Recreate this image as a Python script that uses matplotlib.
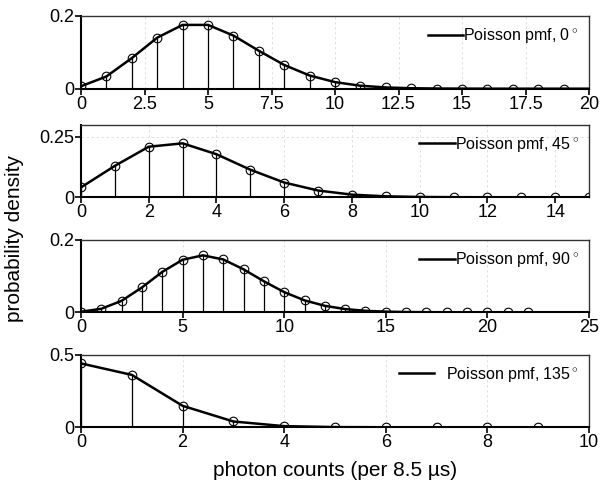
import matplotlib
matplotlib.use("Agg")
import matplotlib.pyplot as plt

plt.rcParams['font.family'] = ['Liberation Sans', 'DejaVu Sans']
plt.rcParams['mathtext.fontset'] = 'custom'
plt.rcParams['mathtext.rm'] = 'Liberation Sans'

# counts and probabilities
counts_0 = list(range(20))
pmf_0 = [0.0067, 0.0337, 0.0842, 0.1404, 0.1755, 0.1755, 0.1462, 0.1044, 0.0653, 0.0363,
         0.0181, 0.0082, 0.0034, 0.0013, 0.0005, 0.0002, 0.0001, 0.0, 0.0, 0.0]
counts_45 = list(range(16))
pmf_45 = [0.041, 0.130, 0.209, 0.223, 0.178, 0.114, 0.061, 0.028, 0.011, 0.004,
          0.0013, 0.0004, 0.0001, 0.0, 0.0, 0.0]
counts_90 = list(range(23))
pmf_90 = [0.0015, 0.0098, 0.0318, 0.0688, 0.1118, 0.1454, 0.1575, 0.1462, 0.1188, 0.0858,
          0.0558, 0.0330, 0.0179, 0.0089, 0.0041, 0.0018, 0.0007, 0.0003, 0.0001, 0.0,
          0.0, 0.0, 0.0]
counts_135 = list(range(10))
pmf_135 = [0.440, 0.361, 0.148, 0.040, 0.008, 0.0014, 0.0002, 0.0, 0.0, 0.0]

labels = ['Poisson pmf, 0$^\\circ$', 'Poisson pmf, 45$^\\circ$',
          'Poisson pmf, 90$^\\circ$', 'Poisson pmf, 135$^\\circ$']
xlims = [20, 15, 25, 10]
xticks = [[0, 2.5, 5, 7.5, 10, 12.5, 15, 17.5, 20],
          [0, 2, 4, 6, 8, 10, 12, 14],
          [0, 5, 10, 15, 20, 25],
          [0, 2, 4, 6, 8, 10]]
xticklabels = [['0', '2.5', '5', '7.5', '10', '12.5', '15', '17.5', '20'],
               ['0', '2', '4', '6', '8', '10', '12', '14'],
               ['0', '5', '10', '15', '20', '25'],
               ['0', '2', '4', '6', '8', '10']]
ylims = [0.2, 0.3, 0.2, 0.5]
yticks = [[0, 0.2], [0, 0.25], [0, 0.2], [0, 0.5]]
yticklabels = [['0', '0.2'], ['0', '0.25'], ['0', '0.2'], ['0', '0.5']]

data = [(counts_0, pmf_0), (counts_45, pmf_45), (counts_90, pmf_90), (counts_135, pmf_135)]

W, H = 602, 480
fig = plt.figure(figsize=(W / 100, H / 100), dpi=100)

# pixel boxes (top, bottom)
boxes = [(16, 88.7), (124.7, 197.3), (240, 312.3), (354.7, 427.3)]
left_px, right_px = 81, 589

for i, ((top, bot), (xs, ys)) in enumerate(zip(boxes, data)):
    ax = fig.add_axes([left_px / W, 1 - bot / H, (right_px - left_px) / W, (bot - top) / H])
    ax.grid(True, color='#dddddd', linestyle='--', linewidth=0.6, dashes=(3, 3))
    ax.set_axisbelow(True)
    ax.vlines(xs, 0, ys, color='black', linewidth=0.9)
    ax.plot(xs, ys, 'o', mfc='none', mec='black', ms=6.2, mew=0.8)
    ln, = ax.plot(xs + [xlims[i]], ys + [0.0], '-', color='black', linewidth=1.8)
    ax.set_xlim(0, xlims[i])
    ax.set_ylim(0, ylims[i])
    ax.set_xticks(xticks[i])
    ax.set_xticklabels(xticklabels[i])
    ax.set_yticks(yticks[i])
    ax.set_yticklabels(yticklabels[i])
    ax.tick_params(direction='out', length=4, width=1.2, labelsize=13, pad=1)
    for s in ['left', 'bottom']:
        ax.spines[s].set_linewidth(1.5)
    for s in ['top', 'right']:
        ax.spines[s].set_linewidth(1.0)
        ax.spines[s].set_color('#333333')
    pad = 0.7 if i == 3 else 0.0
    ax.legend([ln], [labels[i]], loc='upper right', frameon=False, fontsize=11.5,
              handlelength=2.2, handletextpad=pad, borderaxespad=0.25)

fig.text(0.5 * (left_px + right_px) / W, 1 - 470 / H, 'photon counts (per 8.5 µs)',
         ha='center', va='center', fontsize=15)
fig.text(15 / W, 1 - 239 / H, 'probability density', rotation=90,
         ha='center', va='center', fontsize=15)

fig.savefig('out.png', dpi=100)
